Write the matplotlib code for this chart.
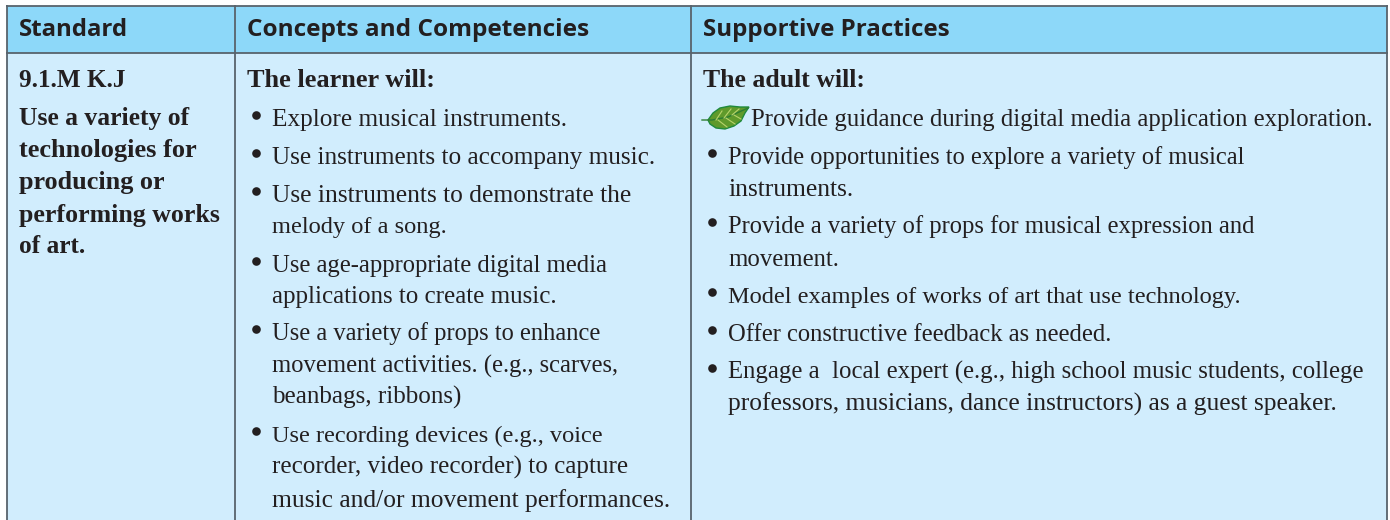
import matplotlib
matplotlib.use("Agg")
import matplotlib.pyplot as plt
from matplotlib.patches import Rectangle, Polygon

W, H = 1390, 520
headers = ["Standard", "Concepts and Competencies", "Supportive Practices"]
col1_bold = ["9.1.M K.J", "Use a variety of", "technologies for", "producing or", "performing works", "of art."]
col2_head = "The learner will:"
col2_lines = [
    ("Explore musical instruments.", True),
    ("Use instruments to accompany music.", True),
    ("Use instruments to demonstrate the", True),
    ("melody of a song.", False),
    ("Use age-appropriate digital media", True),
    ("applications to create music.", False),
    ("Use a variety of props to enhance", True),
    ("movement activities. (e.g., scarves,", False),
    ("beanbags, ribbons)", False),
    ("Use recording devices (e.g., voice", True),
    ("recorder, video recorder) to capture", False),
    ("music and/or movement performances.", False),
]
col3_head = "The adult will:"
col3_lines = [
    ("Provide guidance during digital media application exploration.", None),
    ("Provide opportunities to explore a variety of musical", True),
    ("instruments.", False),
    ("Provide a variety of props for musical expression and", True),
    ("movement.", False),
    ("Model examples of works of art that use technology.", True),
    ("Offer constructive feedback as needed.", True),
    ("Engage a  local expert (e.g., high school music students, college", True),
    ("professors, musicians, dance instructors) as a guest speaker.", False),
]
# layout (pixels): baselines and right edges of the lines
col1_y = [87, 125, 157, 189, 222, 253]
col1_r = [117, 189, 197, 164, 219, 85]
col2_y = [126, 164, 202, 233, 272, 303, 340, 373, 404, 442, 474, 507]
col2_r = [568, 655, 633, 445, 606, 557, 601, 619, 462, 600, 629, 672]
col3_y = [126, 164, 196, 233, 266, 303, 341, 379, 411]
col3_r = [1372, 1246, 856, 1256, 839, 1242, 1112, 1363, 1336]
head_r = [128, 589, 950]

fig = plt.figure(figsize=(13.9, 5.2), dpi=100)
ax = fig.add_axes([0, 0, 1, 1])
ax.set_xlim(0, W); ax.set_ylim(H, 0); ax.axis("off")
ax.add_patch(Rectangle((7, 6), 1380, 514, fc="#D1EDFD", ec="none"))
ax.add_patch(Rectangle((7, 6), 1380, 47, fc="#8DD8F9", ec="none"))
LC = "#58636C"
for x in (7, 235, 691, 1387):
    ax.plot([x, x], [5, H], color=LC, lw=1.3, solid_capstyle="butt")
for y in (6, 53):
    ax.plot([6, 1388], [y, y], color=LC, lw=1.3, solid_capstyle="butt")

TC = "#231F20"
rend = fig.canvas.get_renderer()
def fit(x, y, s, right, lo, hi, **k):
    t = ax.text(x, y, s, color=TC, va="baseline", **k)
    w = t.get_window_extent(rend).width
    size = t.get_fontsize() * (right - x) / w
    t.set_fontsize(min(hi, max(lo, size)))
    return t

SER = "Liberation Serif"
for x, s, r in zip((19, 247, 703), headers, head_r):
    fit(x, 36, s, r, 17, 19, family="Open Sans", weight="bold", fontsize=17)
for y, s, r in zip(col1_y, col1_bold, col1_r):
    fit(19, y, s, r, 18.2, 19, family=SER, weight="bold", fontsize=18)
fit(247, 87, col2_head, 434, 18.2, 19, family=SER, weight="bold", fontsize=18)
fit(703, 87, col3_head, 865, 18.2, 19, family=SER, weight="bold", fontsize=18)

def body(x, lines, ys, rs):
    for (s, b), y, r in zip(lines, ys, rs):
        if b is None:
            fit(x + 48, y, s, r, 17.6, 18.4, family=SER, fontsize=18)
            continue
        if b:
            ax.plot([x + 9], [y - 11], "o", ms=6.2, color=TC, mec="none")
        fit(x + 25, y, s, r, 17.6, 18.4, family=SER, fontsize=18)
body(247, col2_lines, col2_y, col2_r)
body(703, col3_lines, col3_y, col3_r)

# leaf icon
leaf = [(708, 120), (713, 113), (720, 108), (730, 106), (740, 107), (749, 107),
        (745, 113), (741, 121), (734, 126), (725, 129), (716, 128), (710, 124)]
ax.add_patch(Polygon(leaf, closed=True, fc="#5F9A2B", ec="#1F8A3C", lw=1.0))
ax.plot([702, 712, 728, 748], [120, 120, 117, 108], color="#2E7D32", lw=1)
for a, b in [((716, 120), (722, 111)), ((724, 118), (731, 109)), ((732, 115), (739, 109)),
             ((718, 120), (727, 127)), ((726, 118), (735, 124)), ((734, 115), (741, 119))]:
    ax.plot([a[0], b[0]], [a[1], b[1]], color="#B7D36B", lw=0.8)
fig.savefig("out.png", dpi=100)
